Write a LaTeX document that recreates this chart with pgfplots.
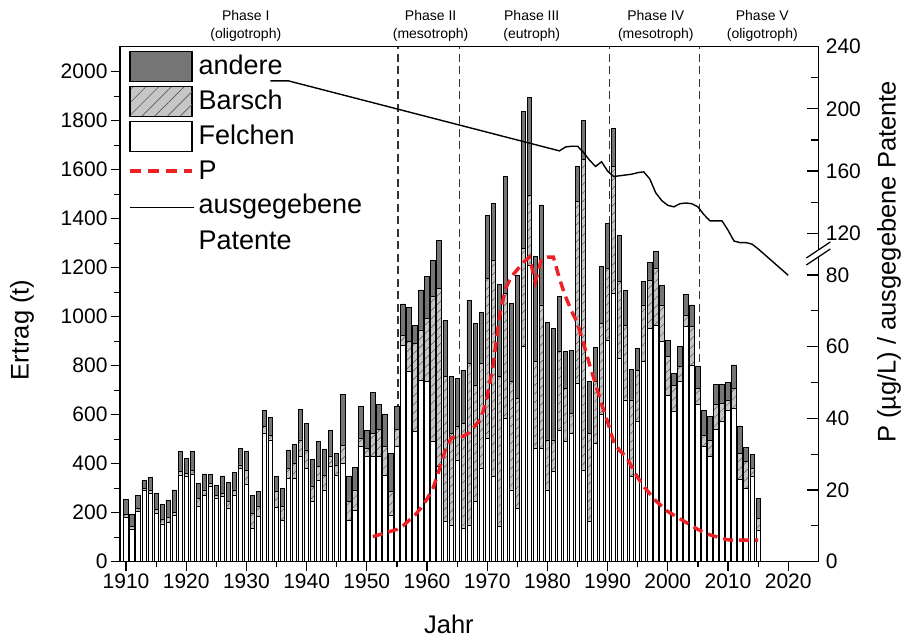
\documentclass[border=0pt]{standalone}
\usepackage{pgfplots}
\pgfplotsset{compat=1.18}
\usepackage{pgfplotstable}
\usepackage{fontspec}
\setmainfont{Liberation Sans}
\usetikzlibrary{patterns.meta}
\definecolor{andere}{HTML}{757575}
\definecolor{barsch}{HTML}{C6C6C6}
\definecolor{pred}{HTML}{EE2024}

% Ertrag in t: Felchen, Barsch, andere
\pgfplotstableread{
jahr F B A
1910 181 12 61
1911 132 14 47
1912 204 14 52
1913 293 6 34
1914 279 14 50
1915 197 17 64
1916 154 19 62
1917 159 22 71
1918 191 9 93
1919 354 13 82
1920 347 14 61
1921 358 16 75
1922 227 32 61
1923 272 21 65
1924 306 14 37
1925 259 13 41
1926 268 11 71
1927 218 27 78
1928 272 21 70
1929 380 15 68
1930 315 59 75
1931 136 61 75
1932 184 41 61
1933 524 27 68
1934 497 20 71
1935 222 64 61
1936 167 58 74
1937 340 41 75
1938 340 61 79
1939 431 66 126
1940 381 75 109
1941 245 61 112
1942 331 57 102
1943 290 64 106
1944 388 41 106
1945 354 41 47
1946 401 75 208
1947 167 78 105
1948 211 82 91
1949 470 34 129
1950 429 34 74
1951 431 93 166
1952 429 109 102
1953 354 116 133
1954 191 95 154
1955 470 68 95
1956 884 41 127
1957 776 122 140
1958 531 360 75
1959 742 204 163
1960 735 258 173
1961 490 592 149
1962 388 728 194
1963 164 591 231
1964 150 374 231
1965 415 136 197
1966 136 429 217
1967 150 660 258
1968 245 476 252
1969 381 429 206
1970 503 653 259
1971 347 884 232
1972 143 612 378
1973 585 510 476
1974 293 442 319
1975 218 449 503
1976 878 401 558
1977 1211 286 398
1978 463 353 429
1979 463 585 408
1980 293 204 480
1981 367 130 455
1982 537 320 227
1983 490 218 149
1984 524 81 256
1985 728 741 146
1986 374 1266 160
1987 163 361 211
1988 483 252 138
1989 600 373 231
1990 905 292 184
1991 1095 517 157
1992 830 313 190
1993 660 306 140
1994 347 313 125
1995 572 210 89
1996 816 232 95
1997 953 197 71
1998 966 231 68
1999 898 150 81
2000 680 157 65
2001 612 109 48
2002 735 61 82
2003 959 48 82
2004 803 156 89
2005 640 68 88
2006 470 47 100
2007 429 68 95
2008 538 102 84
2009 572 74 78
2010 619 41 72
2011 626 82 95
2012 334 108 112
2013 300 108 59
2014 347 34 55
2015 129 48 82
}\ertrag

% P in ug/L
\pgfplotstableread{
jahr P
1951 7
1952 7.5
1953 8
1954 8.5
1955 9
1956 10
1957 11.5
1958 13
1959 15
1960 17.5
1961 20.5
1962 25.5
1963 31
1964 34.5
1965 35
1966 35
1967 36
1968 38
1969 40
1970 46
1971 55
1972 68
1973 76
1974 79.5
1975 81.5
1976 83.5
1977 85
1978 78
1979 84.5
1980 85
1981 85
1982 79
1983 74
1984 70
1985 66.5
1986 61
1987 55
1988 49.5
1989 44
1990 39
1991 33.5
1992 31
1993 29.5
1994 26.5
1995 23.5
1996 21
1997 19
1998 17
1999 15.5
2000 14
2001 13
2002 12
2003 11
2004 10
2005 9
2006 8.2
2007 7.5
2008 7
2009 6.5
2010 6.1
2011 6
2012 6
2013 6
2014 6
2015 6
}\phosphor

% ausgegebene Patente
\pgfplotstableread{
jahr N
1934 218
1937 218
1982 173
1983 175.5
1984 176
1985 176
1986 172
1987 167
1988 163
1989 166
1990 160
1991 156.5
1992 157
1993 157.5
1994 158
1995 159
1996 159.5
1997 155
1998 146
1999 141
2000 138
2001 137
2002 139
2003 139.5
2004 139
2005 137
2006 132
2007 128
2008 128
2009 128
2010 122
2011 115
2012 114
2013 114
2014 113
2015 110
2020 93
}\patente

\pgfplotsset{
  base/.style={scale only axis, width=698.3pt, height=515pt,
    xmin=1909, xmax=2025,
    axis line style={line width=1.4pt},
    tick style={line width=1.2pt, black},
    major tick length=9pt, minor tick length=5.5pt,
    tick label style={font=\fontsize{21}{23}\selectfont},
    /pgf/number format/assume math mode=true,
    /pgf/number format/1000 sep={},
  },
  rightax/.style={base, xtick=\empty, ytick pos=right, tick align=inside,
    major tick length=11pt, minor tick length=7pt,
    yticklabel style={xshift=4pt}},
}
\tikzset{phase/.style={align=center, font=\fontsize{14}{18}\selectfont}}

\begin{document}
\begin{tikzpicture}
\begin{axis}[base,
  ymin=0, ymax=2102,
  ybar stacked, bar width=0.72,
  clip=false,
  xtick={1910,1920,...,2020}, minor x tick num=1,
  ytick={0,200,...,2000}, minor y tick num=1,
  xtick pos=bottom, ytick pos=left, tick align=outside,
  xlabel={Jahr}, ylabel={Ertrag (t)},
  every axis x label/.style={at={(axis description cs:0.471,-0.121)}, anchor=center,
    font=\fontsize{25.5}{28}\selectfont},
  every axis y label/.style={at={(axis description cs:-0.1403,0.45)}, rotate=90, anchor=center,
    font=\fontsize{25.5}{28}\selectfont},
  legend style={draw=none, fill=none, inner sep=0pt, outer sep=0pt,
    at={(axis description cs:0.0119,0.9915)}, anchor=north west,
    font=\fontsize{27}{30}\selectfont, row sep=3.8pt, column sep=4pt,
    nodes={inner sep=0pt, text height=18pt, text depth=5pt}},
  legend cell align=left,
]
\addplot[fill=white, draw=black, line width=0.8pt, forget plot] table[x=jahr, y=F] {\ertrag};
\addplot[fill=barsch, draw=black, line width=0.8pt, forget plot,
  postaction={pattern={Lines[angle=45, distance=6pt, line width=0.5pt]}, pattern color=black!65}]
  table[x=jahr, y=B] {\ertrag};
\addplot[fill=andere, draw=black, line width=0.8pt, forget plot] table[x=jahr, y=A] {\ertrag};

\addlegendimage{legend image code/.code={
  \draw[black, line width=1.2pt, fill=andere] (0pt,-13.2pt) rectangle (62pt,16.8pt);}}
\addlegendentry{andere}
\addlegendimage{legend image code/.code={
  \draw[black, line width=1.2pt, fill=barsch] (0pt,-13.2pt) rectangle (62pt,16.8pt);
  \fill[pattern={Lines[angle=45, distance=9pt, line width=0.6pt]}, pattern color=black!65]
    (0pt,-13.2pt) rectangle (62pt,16.8pt);}}
\addlegendentry{Barsch}
\addlegendimage{legend image code/.code={
  \draw[black, line width=1.2pt, fill=white] (0pt,-13.2pt) rectangle (62pt,16.8pt);}}
\addlegendentry{Felchen}
\addlegendimage{legend image code/.code={
  \path[draw=none, fill=none] (0pt,-13.2pt) rectangle (62pt,16.8pt);
  \draw[pred, line width=3.2pt, dash pattern=on 11pt off 7pt] (0pt,1.8pt) -- (62pt,1.8pt);}}
\addlegendentry{P}
\addlegendimage{legend image code/.code={
  \path[draw=none, fill=none] (0pt,-13.2pt) rectangle (62pt,16.8pt);
  \draw[black, line width=1.4pt] (0pt,-0.8pt) -- (64pt,-0.8pt);}}
\addlegendentry{\begin{tabular}[t]{@{}l@{}}ausgegebene\\[6pt]Patente\end{tabular}}

\foreach \j in {1955.2,1965.4,1990.3,2005.3}{
  \edef\tmp{\noexpand\draw[black!80, line width=1.3pt, dash pattern=on 8pt off 4.5pt]
    (axis cs:\j,0) -- (axis cs:\j,2102);}\tmp
}
\node[phase] at (axis cs:1929.9,2187) {Phase I\\(oligotroph)};
\node[phase] at (axis cs:1960.6,2187) {Phase II\\(mesotroph)};
\node[phase] at (axis cs:1977.4,2187) {Phase III\\(eutroph)};
\node[phase] at (axis cs:1998,2187) {Phase IV\\(mesotroph)};
\node[phase] at (axis cs:2015.7,2187) {Phase V\\(oligotroph)};
\end{axis}

\begin{axis}[rightax, ymin=0, ymax=143.7,
  ytick={0,20,...,80}, minor ytick={10,30,50,70}]
\addplot[pred, line width=3.4pt, dash pattern=on 10pt off 6pt] table[x=jahr, y=P] {\phosphor};
\end{axis}

\begin{axis}[rightax, ymin=-91.2, ymax=240,
  ytick={120,160,200,240}, minor ytick={140,180,220},
  ylabel={P (µg/L) / ausgegebene Patente},
  every axis y label/.style={at={(axis description cs:1.1013,0.582)}, rotate=90, anchor=center,
    font=\fontsize{25.5}{28}\selectfont}]
\addplot[black, line width=1.4pt] table[x=jahr, y=N] {\patente};
\end{axis}

% Achsenbruch
\fill[white] (686.3pt,296.7pt) -- (710.3pt,312.7pt) -- (710.3pt,319.7pt) -- (686.3pt,303.7pt) -- cycle;
\draw[line width=1.2pt] (686.3pt,296.7pt) -- (710.3pt,312.7pt);
\draw[line width=1.2pt] (686.3pt,303.7pt) -- (710.3pt,319.7pt);

\pgfresetboundingbox
\path[use as bounding box] (-120pt,-78.3pt) rectangle (791pt,561.7pt);
\end{tikzpicture}
\end{document}
